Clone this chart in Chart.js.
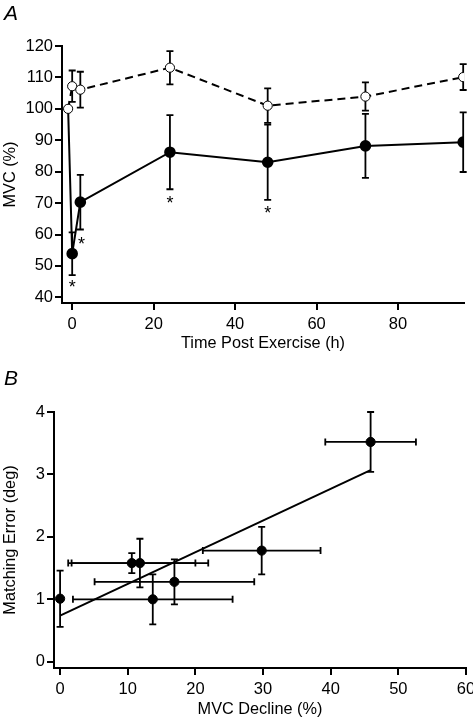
<!DOCTYPE html>
<html>
<head>
<meta charset="utf-8">
<script src="https://cdn.jsdelivr.net/npm/chart.js@4.4.0/dist/chart.umd.min.js"></script>
<style>
  body { margin: 0; background: #fff; width: 473px; height: 719px; position: relative; overflow: hidden; font-family: 'Liberation Sans', Arial, sans-serif; }
  .panel { position: absolute; left: 0; width: 473px; }
  #boxA { top: 0; height: 360px; }
  #boxB { top: 360px; height: 359px; }
  .lbl { position: absolute; left: 4px; font-style: italic; font-size: 21px; color: #000; line-height: 1; }
</style>
</head>
<body>
<div class="panel" id="boxA"><canvas id="chartA" width="473" height="360"></canvas></div>
<div class="panel" id="boxB"><canvas id="chartB" width="473" height="359"></canvas></div>
<div class="lbl" style="top:2px">A</div>
<div class="lbl" style="top:367px">B</div>
<script>
// panel A : MVC after exercise (filled) vs control (open)
var hoursA = [-1, 0, 2, 24, 48, 72, 96];
var controlMVC = [100, 107.2, 106.1, 113.1, 101.0, 103.9, 110.1];
var controlSem = [0, 5.0, 5.7, 5.3, 5.5, 4.5, 4.1];
var exerciseMVC = [100, 53.9, 70.3, 86.2, 83.0, 88.2, 89.4];
var exerciseSem = [0, 6.8, 8.7, 11.8, 12.0, 10.2, 9.5];
var starX = [0, 2.3, 24, 48];
var starY = [44.1, 57.8, 71.1, 67.9];
var ticksAx = [0, 20, 40, 60, 80];
var ticksAy = [40, 50, 60, 70, 80, 90, 100, 110, 120];

// panel B : matching error vs MVC decline
var declineB = [0, 10.6, 11.8, 13.7, 16.9, 29.8, 45.9];
var declineSem = [0, 9.4, 10.1, 11.8, 11.8, 8.7, 6.7];
var matchB = [1.01, 1.58, 1.58, 1.0, 1.28, 1.78, 3.52];
var matchSem = [0.45, 0.16, 0.39, 0.4, 0.36, 0.38, 0.48];
var fitX = [0, 45.9];
var fitY = [0.74, 3.07];
var ticksBx = [0, 10, 20, 30, 40, 50, 60];
var ticksBy = [0, 1, 2, 3, 4];

var FONT = "'Liberation Sans', Arial, sans-serif";

function pts(xs, ys) {
    return xs.map(function (x, i) { return { x: x, y: ys[i] }; });
}

// error bars drawn under the markers
var errorBars = {
    id: 'errorBars',
    beforeDatasetsDraw: function (chart) {
        var ctx = chart.ctx, sx = chart.scales.x, sy = chart.scales.y;
        var cap = 3.5;
        ctx.save();
        ctx.strokeStyle = '#000';
        ctx.lineWidth = 1.8;
        chart.data.datasets.forEach(function (ds) {
            if (!ds.errY && !ds.errX) return;
            ds.data.forEach(function (p, i) {
                var px = sx.getPixelForValue(p.x), py = sy.getPixelForValue(p.y);
                ctx.beginPath();
                if (ds.errY && ds.errY[i]) {
                    var t = sy.getPixelForValue(p.y + ds.errY[i]);
                    var b = sy.getPixelForValue(p.y - ds.errY[i]);
                    ctx.moveTo(px, t); ctx.lineTo(px, b);
                    ctx.moveTo(px - cap, t); ctx.lineTo(px + cap, t);
                    ctx.moveTo(px - cap, b); ctx.lineTo(px + cap, b);
                }
                if (ds.errX && ds.errX[i]) {
                    var l = sx.getPixelForValue(p.x - ds.errX[i]);
                    var r = sx.getPixelForValue(p.x + ds.errX[i]);
                    ctx.moveTo(l, py); ctx.lineTo(r, py);
                    ctx.moveTo(l, py - cap); ctx.lineTo(l, py + cap);
                    ctx.moveTo(r, py - cap); ctx.lineTo(r, py + cap);
                }
                ctx.stroke();
            });
        });
        ctx.restore();
    }
};

// significance stars
var stars = {
    id: 'stars',
    afterDatasetsDraw: function (chart, args, opts) {
        if (!opts.xs) return;
        var ctx = chart.ctx, sx = chart.scales.x, sy = chart.scales.y;
        ctx.save();
        ctx.fillStyle = '#000';
        ctx.font = '18px ' + FONT;
        ctx.textAlign = 'center';
        ctx.textBaseline = 'middle';
        opts.xs.forEach(function (x, i) {
            ctx.fillText('*', sx.getPixelForValue(x), sy.getPixelForValue(opts.ys[i]) + 4);
        });
        ctx.restore();
    }
};

function axis(min, max, tickVals, size, title, titlePad, isY) {
    return {
        type: 'linear',
        min: min,
        max: max,
        afterBuildTicks: function (s) { s.ticks = tickVals.map(function (v) { return { value: v }; }); },
        afterFit: function (s) {
            if (isY) { s.width = size; s.paddingTop = 0; s.paddingBottom = 0; }
            else { s.height = size; s.paddingLeft = 0; s.paddingRight = 0; }
        },
        border: { display: true, color: '#000', width: 2 },
        grid: { display: true, drawOnChartArea: false, drawTicks: true, tickLength: 7, color: '#000', lineWidth: 2 },
        ticks: { color: '#000', font: { family: FONT, size: 16.5 }, padding: isY ? 2 : 5, maxRotation: 0 },
        title: { display: true, text: title, color: '#000', font: { family: FONT, size: 16.3 }, padding: titlePad }
    };
}

var chartA = new Chart(document.getElementById('chartA'), {
    type: 'line',
    data: {
        datasets: [{
            data: pts(hoursA, controlMVC),
            errY: controlSem,
            borderColor: '#000',
            borderWidth: 2,
            borderDash: [8, 5],
            pointRadius: 4.6,
            pointBackgroundColor: '#fff',
            pointBorderColor: '#000',
            pointBorderWidth: 1,
            order: 0
        }, {
            data: pts(hoursA, exerciseMVC),
            errY: exerciseSem,
            borderColor: '#000',
            borderWidth: 2,
            pointRadius: function (c) { return c.dataIndex === 0 ? 0 : 4.8; },
            pointBackgroundColor: '#000',
            pointBorderColor: '#000',
            order: 1
        }]
    },
    options: {
        responsive: false,
        animation: false,
        layout: { padding: { left: 0, right: 9, top: 46, bottom: 0 } },
        plugins: { legend: { display: false }, tooltip: { enabled: false }, stars: { xs: starX, ys: starY } },
        scales: {
            x: axis(-2.5, 96.2, ticksAx, 57, 'Time Post Exercise (h)', { top: 0, bottom: 7 }, false),
            y: axis(38.2, 120, ticksAy, 62, 'MVC (%)', { top: 1, bottom: 0 }, true)
        }
    },
    plugins: [errorBars, stars]
});

var chartB = new Chart(document.getElementById('chartB'), {
    type: 'line',
    data: {
        datasets: [{
            data: pts(declineB, matchB),
            errX: declineSem,
            errY: matchSem,
            showLine: false,
            pointRadius: 4.6,
            pointBackgroundColor: '#000',
            pointBorderColor: '#000'
        }, {
            data: pts(fitX, fitY),
            borderColor: '#000',
            borderWidth: 2,
            pointRadius: 0
        }]
    },
    options: {
        responsive: false,
        animation: false,
        layout: { padding: { left: 0, right: 7, top: 52, bottom: 0 } },
        plugins: { legend: { display: false }, tooltip: { enabled: false } },
        scales: {
            x: axis(-0.9, 60, ticksBx, 51, 'MVC Decline (%)', { top: 0, bottom: 0 }, false),
            y: axis(-0.1, 4, ticksBy, 54, 'Matching Error (deg)', { top: 1, bottom: 0 }, true)
        }
    },
    plugins: [errorBars]
});
</script>
</body>
</html>
